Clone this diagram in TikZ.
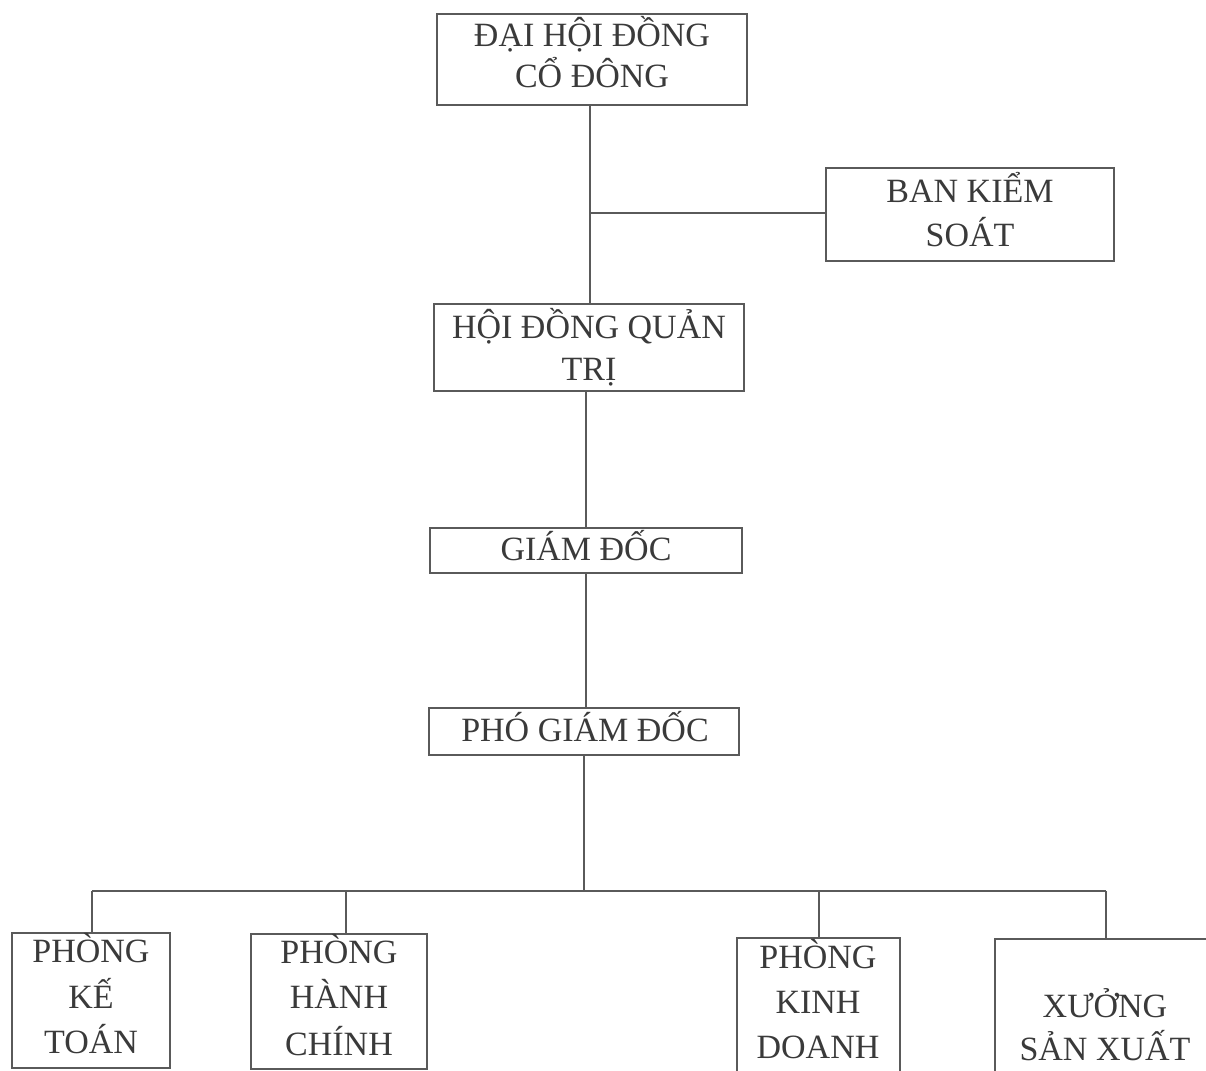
\documentclass[tikz,border=0pt]{standalone}
\usepackage{fontspec}
\setmainfont{Liberation Serif}
\definecolor{linegray}{HTML}{5A5A5A}
\definecolor{inkgray}{HTML}{3A3A3A}
\tikzset{
  box/.style={draw=linegray, line width=1.3pt, inner sep=0pt, outer sep=0pt},
  lbl/.style={anchor=base, text=inkgray, font=\fontsize{34}{40}\selectfont, inner sep=0pt, outer sep=0pt},
  conn/.style={draw=linegray, line width=1.3pt}
}
\begin{document}
\begin{tikzpicture}[x=1pt, y=-1pt]
\useasboundingbox (0,0) rectangle (1206,1070);
\clip (0,0) rectangle (1206,1070);
\fill[white] (0,0) rectangle (1206,1070);

% boxes
\node[box, minimum width=310pt, minimum height=91pt] (dh) at (592,59.5) {};
\node[box, minimum width=288pt, minimum height=93pt] (bks) at (970,214.5) {};
\node[box, minimum width=310pt, minimum height=87pt] (hd) at (589,347.5) {};
\node[box, minimum width=312pt, minimum height=45pt] (gd) at (586,550.5) {};
\node[box, minimum width=310pt, minimum height=47pt] (pgd) at (584,731.5) {};
\node[box, minimum width=158pt, minimum height=135pt] (kt) at (91,1000.5) {};
\node[box, minimum width=176pt, minimum height=135pt] (hc) at (339,1001.5) {};
\node[box, minimum width=163pt, minimum height=136pt] (kd) at (818.5,1006) {};
\node[box, minimum width=220pt, minimum height=140pt] (xs) at (1105,1009) {};

% texts
\node[lbl] (dh1) at (592,47) {ĐẠI HỘI ĐỒNG};
\node[lbl] (dh2) at (592,88) {CỔ ĐÔNG};
\node[lbl] (bks1) at (970,202) {BAN KIỂM};
\node[lbl] (bks2) at (970,246) {SOÁT};
\node[lbl] (hd1) at (589,338) {HỘI ĐỒNG QUẢN};
\node[lbl] (hd2) at (589,380) {TRỊ};
\node[lbl] (gd1) at (586,560) {GIÁM ĐỐC};
\node[lbl] (pgd1) at (585,741) {PHÓ GIÁM ĐỐC};
\node[lbl] (kt1) at (91,962) {PHÒNG};
\node[lbl] (kt2) at (91,1008) {KẾ};
\node[lbl] (kt3) at (91,1053) {TOÁN};
\node[lbl] (hc1) at (339,963) {PHÒNG};
\node[lbl] (hc2) at (339,1008) {HÀNH};
\node[lbl] (hc3) at (339,1055) {CHÍNH};
\node[lbl] (kd1) at (818,968) {PHÒNG};
\node[lbl] (kd2) at (818,1013) {KINH};
\node[lbl] (kd3) at (818,1058) {DOANH};
\node[lbl] (xs1) at (1105,1017) {XƯỞNG};
\node[lbl] (xs2) at (1105,1060) {SẢN XUẤT};

% connectors
\coordinate (j1) at (590,213);
\coordinate (bus) at (584,891);
\coordinate (busL) at (92,891);
\coordinate (busR) at (1106,891);
\coordinate (hcdrop) at (346,891);
\coordinate (kddrop) at (819,891);
\draw[conn] (dh.south -| j1) -- (hd.north -| j1);
\draw[conn] (j1) -- (j1 -| bks.west);
\draw[conn] (hd.south -| gd.north) -- (gd.north);
\draw[conn] (gd.south) -- (gd.south |- pgd.north);
\draw[conn] (pgd.south) -- (pgd.south |- bus);
\draw[conn] (busL) -- (busR);
\draw[conn] (busL) -- (busL |- kt.north);
\draw[conn] (hcdrop) -- (hcdrop |- hc.north);
\draw[conn] (kddrop) -- (kddrop |- kd.north);
\draw[conn] (busR) -- (busR |- xs.north);
\end{tikzpicture}
\end{document}
